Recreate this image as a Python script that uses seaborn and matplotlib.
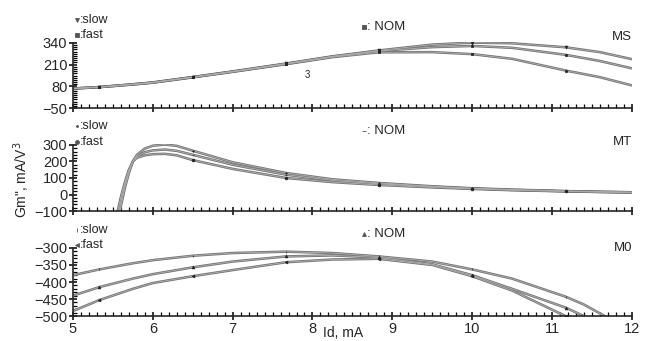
import numpy as np
import pandas as pd
import seaborn as sns
import matplotlib.pyplot as plt
from matplotlib.ticker import AutoMinorLocator
from matplotlib.lines import Line2D

# Id positions where the simulator put its markers
MARK_ID = [5.33, 6.5, 7.67, 8.83, 10.0, 11.17]

# MS model
MS_ID = [5.0, 5.33, 5.75, 6.0, 6.5, 7.0, 7.67, 8.25, 8.83, 9.5, 10.0, 10.5, 11.17, 11.6, 12.0]
MS_SLOW = [67, 76, 93, 104, 136, 170, 217, 260, 295, 330, 342, 338, 314, 285, 243]
MS_NOM = [67, 76, 92, 103, 135, 168, 215, 258, 292, 315, 322, 311, 269, 232, 188]
MS_FAST = [67, 75, 91, 102, 134, 167, 213, 255, 284, 285, 273, 245, 175, 135, 86]

# MT model
MT_ID = [5.5, 5.55, 5.6, 5.65, 5.7, 5.75, 5.8, 5.9, 6.0, 6.15, 6.3, 6.5, 7.0, 7.67,
         8.25, 8.83, 9.5, 10.0, 10.5, 11.17, 11.6, 12.0]
MT_SLOW = [-400, -230, -70, 40, 130, 200, 240, 278, 295, 302, 294, 265, 195, 130,
           92, 70, 50, 38, 30, 21, 17, 14]
MT_NOM = [-330, -170, -40, 60, 140, 200, 230, 256, 267, 272, 264, 240, 180, 120,
          85, 65, 47, 36, 28, 20, 16, 13]
MT_FAST = [-260, -120, -15, 75, 150, 200, 222, 237, 244, 246, 237, 208, 155, 100,
           75, 58, 43, 34, 26, 19, 15, 12]

# M0 model
M0_ID = [5.0, 5.33, 5.75, 6.0, 6.5, 7.0, 7.67, 8.25, 8.83, 9.5, 10.0, 10.5, 11.17, 11.4, 11.7, 12.0]
M0_SLOW = [-380, -363, -345, -336, -323, -315, -311, -315, -325, -340, -363, -390, -443, -466, -505, -560]
M0_NOM = [-440, -415, -390, -377, -357, -340, -325, -322, -328, -348, -380, -420, -475, -500, -540, -590]
M0_FAST = [-485, -453, -420, -403, -383, -365, -342, -334, -332, -350, -383, -425, -500, -530, -575, -620]

X_TICKS = [5, 6, 7, 8, 9, 10, 11, 12]
TEXT_FONT = ['Liberation Sans', 'DejaVu Sans']

panels = [
    dict(name='MS', ids=MS_ID, slow=MS_SLOW, nom=MS_NOM, fast=MS_FAST,
         ylim=(-50, 346), bound=(-50, 340), yticks=[-50, 80, 210, 340], minor=10,
         marks=('v', 's', 's'), rect=[0.113, 0.683, 0.865, 0.194],
         ty=(20, 35, 27, 37)),
    dict(name='MT', ids=MT_ID, slow=MT_SLOW, nom=MT_NOM, fast=MT_FAST,
         ylim=(-100, 306), bound=(-100, 300), yticks=[-100, 0, 100, 200, 300], minor=5,
         marks=('.', 'o', '_'), rect=[0.113, 0.381, 0.865, 0.197],
         ty=(126, 142, 131, 142)),
    dict(name='M0', ids=M0_ID, slow=M0_SLOW, nom=M0_NOM, fast=M0_FAST,
         ylim=(-500, -300), bound=(-500, -300), yticks=[-500, -450, -400, -350, -300], minor=5,
         marks=('|', '<', '^'), rect=[0.113, 0.073, 0.865, 0.2],
         ty=(230, 245, 234, 248)),
]

sns.set_style('ticks')
plt.rcParams['font.family'] = TEXT_FONT
plt.rcParams['axes.linewidth'] = 1.2

W, H = 646, 341
fig = plt.figure(figsize=(W / 100, H / 100), dpi=100)

def fx(px):
    return px / W

def fy(py):
    return 1 - py / H

for i, p in enumerate(panels):
    ax = fig.add_axes(p['rect'])
    frames = []
    for key in ['slow', 'nom', 'fast']:
        frames.append(pd.DataFrame({'Id': p['ids'], 'Gm': p[key], 'corner': key}))
    df = pd.concat(frames, ignore_index=True)

    # gray curves with darker rim, like the original print
    sns.lineplot(data=df, x='Id', y='Gm', units='corner', estimator=None,
                 color='#707070', linewidth=1.8, ax=ax, legend=False)
    sns.lineplot(data=df, x='Id', y='Gm', units='corner', estimator=None,
                 color='#ababab', linewidth=0.7, ax=ax, legend=False)

    marked = df[df['Id'].isin(MARK_ID)]
    marked = marked[(marked['Gm'] >= p['bound'][0]) & (marked['Gm'] <= p['ylim'][1])]
    for key, m in zip(['slow', 'fast', 'nom'], p['marks']):
        sub = marked[marked['corner'] == key]
        sns.scatterplot(data=sub, x='Id', y='Gm', marker=m, s=4, color='#222222',
                        edgecolor='#222222', linewidth=0.5, ax=ax, legend=False, zorder=5)

    ax.set_xlim(5, 12)
    ax.set_ylim(*p['ylim'])
    ax.set_xticks(X_TICKS)
    ax.set_yticks(p['yticks'])
    ax.xaxis.set_minor_locator(AutoMinorLocator(10))
    ax.yaxis.set_minor_locator(AutoMinorLocator(p['minor']))
    ax.tick_params(which='major', direction='inout', length=6, width=1.1,
                   labelsize=10.5, pad=1, color='black')
    ax.tick_params(which='minor', direction='in', length=3, width=0.9, color='black')
    ax.spines['left'].set_bounds(*p['bound'])
    sns.despine(ax=ax)
    ax.set_xlabel('')
    ax.set_ylabel('')
    if i < 2:
        ax.tick_params(labelbottom=False)

    ys, yf, yn, yname = p['ty']
    for px, py, m in [(77, ys, p['marks'][0]), (77, yf, p['marks'][1]), (364, yn, p['marks'][2])]:
        fig.add_artist(Line2D([fx(px)], [fy(py)], marker=m, markersize=2.8,
                              color='#555555', markeredgewidth=0.6, linestyle='none'))
    fig.text(fx(80), fy(ys), ':slow', fontsize=9, va='center', ha='left')
    fig.text(fx(80), fy(yf), ':fast', fontsize=9, va='center', ha='left')
    fig.text(fx(367), fy(yn), ': NOM', fontsize=9.5, va='center', ha='left')
    fig.text(fx(632), fy(yname), p['name'], fontsize=9.5, va='center', ha='right')

fig.text(fx(307), fy(75), '3', fontsize=7, va='center', ha='center')
fig.text(fx(22), fy(180), 'Gm", mA/V$^3$', fontsize=10, rotation=90,
         va='center', ha='center')
fig.text(fx(343), fy(333), 'Id, mA', fontsize=10, va='center', ha='center')

fig.savefig('out.png', dpi=100)
